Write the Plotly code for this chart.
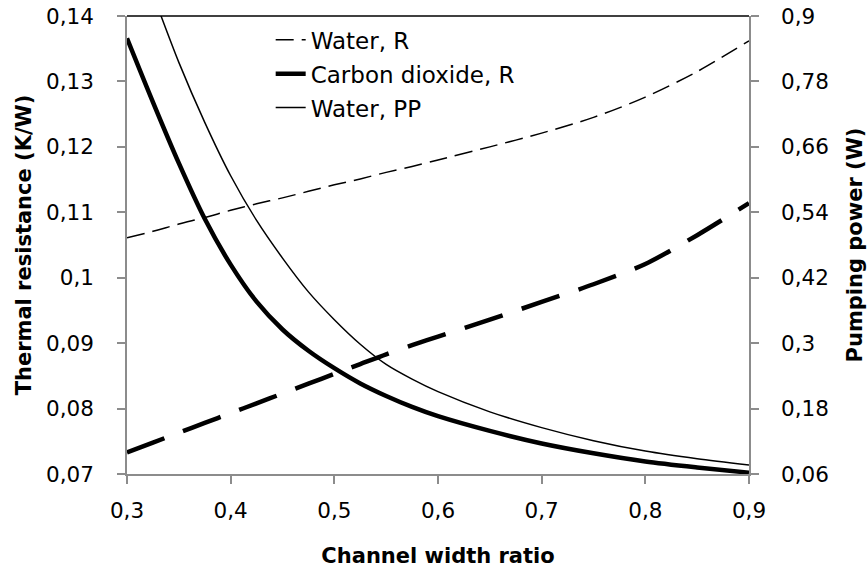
import plotly.graph_objects as go

# Channel width ratio
x = [0.3, 0.325, 0.35, 0.375, 0.4, 0.425, 0.45, 0.475, 0.5, 0.525, 0.55, 0.575, 0.6, 0.65, 0.7, 0.75, 0.8, 0.85, 0.9]

# Thermal resistance (K/W) - left axis
water_R = [0.1061, 0.1071, 0.1082, 0.1092, 0.1103, 0.1113, 0.1122, 0.1132, 0.1142, 0.1151, 0.1161, 0.1170, 0.1180, 0.1200, 0.1221, 0.1245, 0.1276, 0.1315, 0.1362]
co2_R = [0.0733, 0.0748, 0.0763, 0.0778, 0.0793, 0.0808, 0.0823, 0.0838, 0.0853, 0.0868, 0.0883, 0.0897, 0.0910, 0.0936, 0.0963, 0.0990, 0.1021, 0.1065, 0.1114]

# Pumping power (W) - right axis
water_PP = [1.07, 0.94, 0.815, 0.705, 0.607, 0.525, 0.456, 0.394, 0.343, 0.298, 0.261, 0.234, 0.211, 0.174, 0.145, 0.121, 0.102, 0.088, 0.0765]
co2_PP = [0.859, 0.742, 0.630, 0.528, 0.444, 0.376, 0.325, 0.286, 0.254, 0.226, 0.203, 0.183, 0.166, 0.139, 0.116, 0.098, 0.083, 0.072, 0.0624]

x_ticks = [0.3, 0.4, 0.5, 0.6, 0.7, 0.8, 0.9]
x_ticktext = ["0,3", "0,4", "0,5", "0,6", "0,7", "0,8", "0,9"]
y1_ticks = [0.07, 0.08, 0.09, 0.10, 0.11, 0.12, 0.13, 0.14]
y1_ticktext = ["0,07", "0,08", "0,09", "0,1", "0,11", "0,12", "0,13", "0,14"]
y2_ticks = [0.06, 0.18, 0.30, 0.42, 0.54, 0.66, 0.78, 0.90]
y2_ticktext = ["0,06", "0,18", "0,3", "0,42", "0,54", "0,66", "0,78", "0,9"]

FONT = "DejaVu Sans"
AXC = "#8c8c8c"

fig = go.Figure()
fig.add_trace(go.Scatter(x=x, y=water_R, name="Water, R", mode="lines", legendgroup="a",
                         line=dict(color="black", width=1.5, dash="18px,8px", shape="spline", smoothing=0.8)))
fig.add_trace(go.Scatter(x=x, y=co2_R, name="Carbon dioxide, R", mode="lines", legendgroup="b",
                         line=dict(color="black", width=4.5, dash="40px,20px", shape="spline", smoothing=0.8)))
fig.add_trace(go.Scatter(x=x, y=water_PP, name="Water, PP", mode="lines", legendgroup="c", yaxis="y2",
                         line=dict(color="black", width=1.5, shape="spline", smoothing=0.8)))
fig.add_trace(go.Scatter(x=x, y=co2_PP, name="Carbon dioxide, PP", mode="lines", legendgroup="d", yaxis="y2",
                         showlegend=False,
                         line=dict(color="black", width=4.5, shape="spline", smoothing=0.8)))

axis_common = dict(showgrid=False, zeroline=False, showline=True, linecolor=AXC, linewidth=1.5,
                   ticks="outside", ticklen=8, tickcolor=AXC, tickwidth=1.5, automargin=False,
                   tickfont=dict(family=FONT, size=21.5, color="black"))
title_font = dict(family=FONT, size=21, color="black")

fig.update_layout(
    width=868, height=568,
    margin=dict(l=127, r=119, t=16, b=94, autoexpand=False),
    paper_bgcolor="white", plot_bgcolor="white",
    font=dict(family=FONT, size=22, color="black"),
    showlegend=True,
    legend=dict(x=0.231, y=0.995, xanchor="left", yanchor="top",
                bgcolor="rgba(0,0,0,0)", traceorder="grouped", tracegroupgap=1,
                font=dict(family=FONT, size=23)),
    xaxis=dict(range=[0.3, 0.9], tickvals=x_ticks, ticktext=x_ticktext, ticklabelstandoff=8,
               title=dict(text="<b>Channel width ratio</b>", font=title_font, standoff=27),
               **axis_common),
    yaxis=dict(range=[0.07, 0.14], tickvals=y1_ticks, ticktext=y1_ticktext, ticklabelstandoff=19,
               title=dict(text="<b>Thermal resistance (K/W)</b>", font=title_font, standoff=9),
               **axis_common),
    yaxis2=dict(range=[0.06, 0.9], tickvals=y2_ticks, ticktext=y2_ticktext, overlaying="y", side="right",
                ticklabelstandoff=18,
                title=dict(text="<b>Pumping power (W)</b>", font=title_font, standoff=19),
                **axis_common),
)
fig.add_shape(type="line", xref="paper", yref="paper", x0=0, x1=1, y0=1, y1=1,
              line=dict(color="black", width=1.5), layer="below")

fig.write_html("out.html")
